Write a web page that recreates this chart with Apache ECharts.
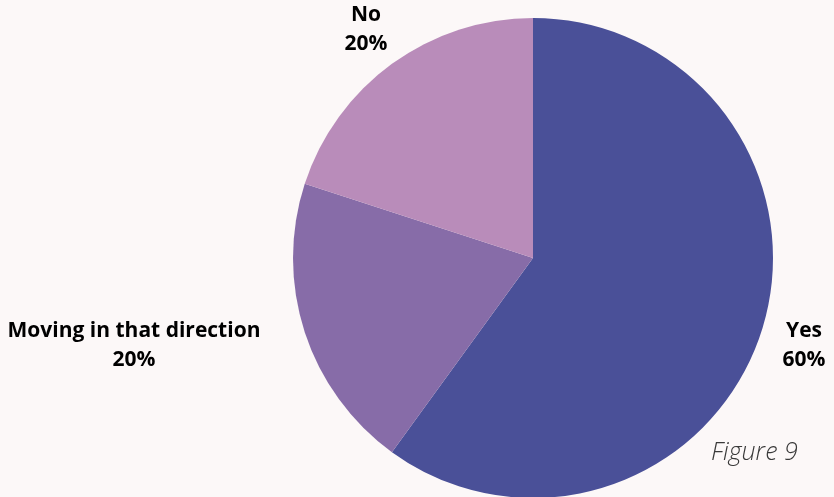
<!DOCTYPE html>
<html>
<head>
<meta charset="utf-8">
<script src="https://cdn.jsdelivr.net/npm/echarts@6/dist/echarts.min.js"></script>
<style>
  html, body { margin: 0; padding: 0; background: #fcf8f8; }
  #chart { width: 834px; height: 497px; }
</style>
</head>
<body>
<div id="chart"></div>
<script>
// Survey answers and their shares (percent)
const categories = ['Yes', 'Moving in that direction', 'No'];
const shares = [60, 20, 20];
const sliceColors = ['#4a5098', '#876ca8', '#b98cba'];

// Where each answer's caption sits
const labelSpots = [
  { x: 804, y: 346 },
  { x: 134, y: 346 },
  { x: 366, y: 30 }
];

const chart = echarts.init(document.getElementById('chart'), null, { renderer: 'canvas' });

chart.setOption({
  backgroundColor: '#fcf8f8',
  animation: false,
  series: [{
    type: 'pie',
    center: [533, 258],
    radius: 240,
    startAngle: 90,
    clockwise: true,
    data: categories.map((name, i) => ({
      name,
      value: shares[i],
      itemStyle: { color: sliceColors[i] }
    })),
    label: {
      show: true,
      position: 'inside',
      formatter: '{b}\n{c}%',
      fontFamily: 'Open Sans',
      fontWeight: 'bold',
      fontSize: 21,
      lineHeight: 29,
      color: '#000000',
      align: 'center',
      overflow: 'none'
    },
    labelLine: { show: false },
    labelLayout: function (params) {
      const spot = labelSpots[params.dataIndex];
      return { x: spot.x, y: spot.y, align: 'center', verticalAlign: 'middle' };
    }
  }],
  graphic: [{
    type: 'text',
    left: 711,
    top: 440,
    style: {
      text: 'Figure 9',
      fontFamily: 'Open Sans',
      fontStyle: 'italic',
      fontWeight: 300,
      fontSize: 25,
      fill: '#3a3a3a'
    }
  }]
});
</script>
</body>
</html>
